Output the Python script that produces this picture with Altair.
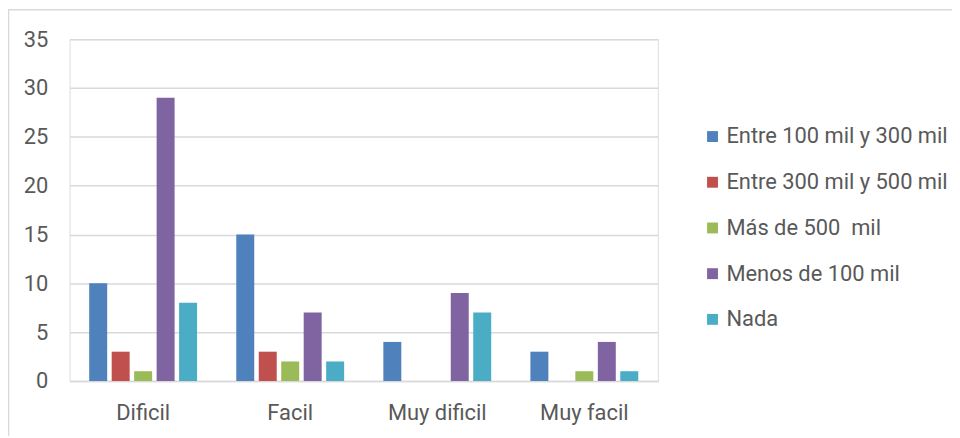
import altair as alt
import pandas as pd

categories = ["Dificil", "Facil", "Muy dificil", "Muy facil"]
series = ["Entre 100 mil y 300 mil", "Entre 300 mil y 500 mil", "Más de 500  mil", "Menos de 100 mil", "Nada"]
colors = ["#4F81BD", "#C0504D", "#9BBB59", "#8064A2", "#4BACC6"]
values = {
    "Entre 100 mil y 300 mil": [10, 15, 4, 3],
    "Entre 300 mil y 500 mil": [3, 3, 0, 0],
    "Más de 500  mil": [1, 2, 0, 1],
    "Menos de 100 mil": [29, 7, 9, 4],
    "Nada": [8, 2, 7, 1],
}
y_ticks = [0, 5, 10, 15, 20, 25, 30, 35]

rows = []
for s in series:
    for c, v in zip(categories, values[s]):
        rows.append({"cat": c, "serie": s, "val": v})
df = pd.DataFrame(rows)

FONT = "Roboto"
TXT = "#595959"
FS = 22

bars = alt.Chart(df).mark_bar().encode(
    x=alt.X("cat:N", sort=categories, title=None,
            scale=alt.Scale(paddingInner=0.236, paddingOuter=0.118),
            axis=alt.Axis(labelAngle=0, labelFontSize=FS, labelColor=TXT, labelFont=FONT,
                          labelPadding=22, ticks=False, domainColor="#d9d9d9", domainWidth=1.5,
                          grid=False)),
    xOffset=alt.XOffset("serie:N", sort=series,
                        scale=alt.Scale(paddingInner=0.2, paddingOuter=0.1)),
    y=alt.Y("val:Q", title=None,
            scale=alt.Scale(domain=[0, 35], nice=False),
            axis=alt.Axis(values=y_ticks, labelFontSize=FS, labelColor=TXT, labelFont=FONT,
                          labelPadding=22, ticks=False, domain=False, gridColor="#d9d9d9",
                          gridWidth=1.5)),
    color=alt.Color("serie:N", sort=series, title=None,
                    scale=alt.Scale(domain=series, range=colors),
                    legend=alt.Legend(orient="none", legendX=636, legendY=87,
                                      labelFontSize=FS, labelColor=TXT, labelFont=FONT,
                                      labelLimit=0,
                                      labelExpr="replace(datum.label, '  ', ' \u00a0')",
                                      symbolType="square", symbolSize=120, symbolStrokeWidth=0,
                                      rowPadding=24, labelOffset=3)),
)

border = alt.Chart(alt.Data(values=[{}])).mark_rect(
    fill=None, stroke="#d9d9d9", strokeWidth=1.5
).encode(
    x=alt.value(-61.5), x2=alt.value(960),
    y=alt.value(-29.5), y2=alt.value(520),
)

chart = alt.layer(border, bars).properties(
    width=592, height=344,
    padding={"left": 62, "top": 30, "right": 296, "bottom": 54},
    autosize=alt.AutoSizeParams(type="none"),
).configure_view(stroke=None).configure(background="white")

chart.save("out.html", embed_options={"renderer": "svg", "actions": False})
